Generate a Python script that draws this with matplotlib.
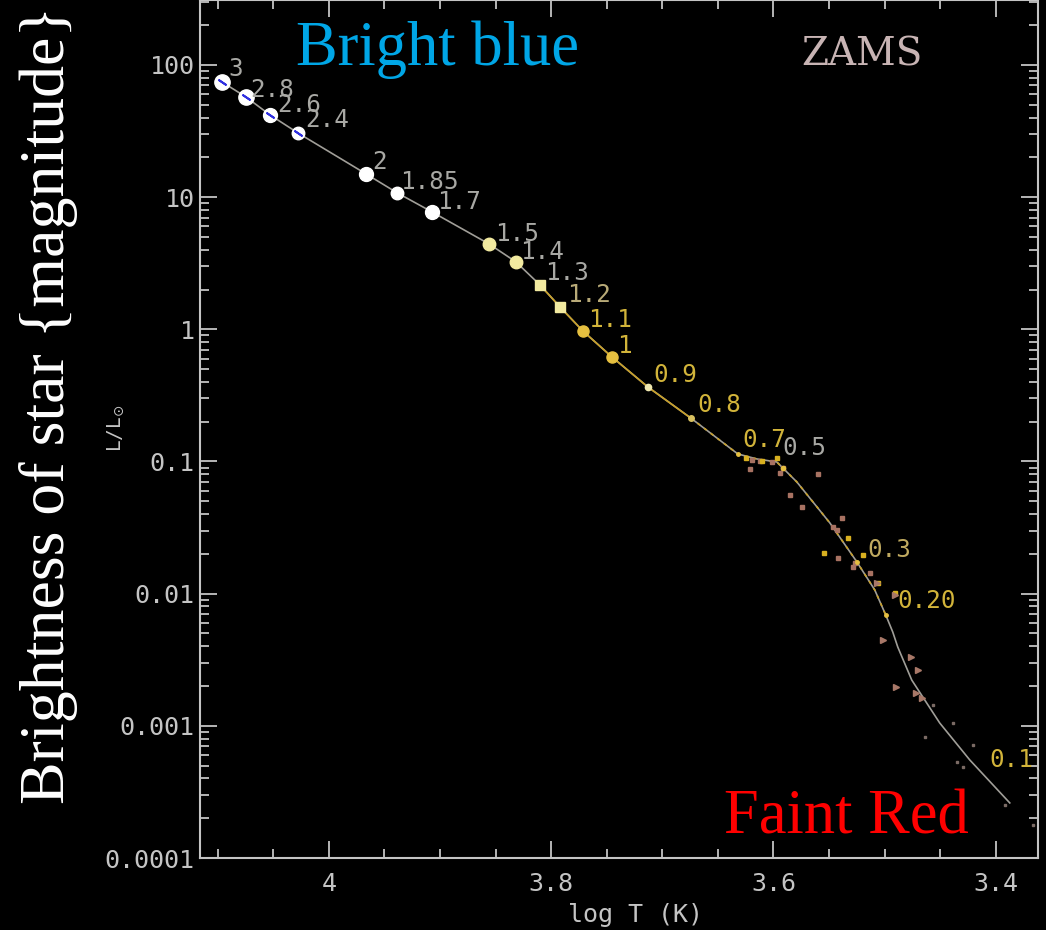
# ZAMS en el diagrama HR (log T vs L/Lsol), fondo negro
import matplotlib
matplotlib.use("Agg")
import matplotlib.pyplot as plt
from matplotlib.ticker import FixedLocator, FixedFormatter, MultipleLocator, LogLocator

# curva ZAMS
lineaLogT = [4.0962, 4.0747, 4.0531, 4.0279, 3.9667, 3.9388, 3.9073, 3.8561, 3.8318,
             3.8102, 3.7922, 3.7715, 3.7454, 3.7130, 3.6744, 3.6321, 3.6150, 3.5970,
             3.5916, 3.5790, 3.5493, 3.5250, 3.5089, 3.4990, 3.4927, 3.4882, 3.4756,
             3.4504, 3.4234, 3.3874]
lineaL = [74.3, 57.3, 41.9, 30.6, 15.0, 10.8, 7.73, 4.43, 3.24,
          2.17, 1.48, 0.971, 0.618, 0.366, 0.213, 0.114, 0.1045, 0.0991,
          0.0893, 0.0700, 0.0343, 0.0174, 0.01067, 0.0069, 0.00513, 0.00395, 0.00222,
          0.00105, 0.000552, 0.000261]

# masas marcadas sobre la curva
masas = ["3", "2.8", "2.6", "2.4", "2", "1.85", "1.7", "1.5", "1.4", "1.3", "1.2",
         "1.1", "1", "0.9", "0.8", "0.7", "0.5", "0.3", "0.20", "0.1"]
masasLogT = [4.0962, 4.0747, 4.0531, 4.0279, 3.9667, 3.9388, 3.9073, 3.8561, 3.8318,
             3.8102, 3.7922, 3.7715, 3.7454, 3.7130, 3.6744, 3.6321, 3.5916, 3.5250,
             3.4990, 3.3874]
masasL = [74.3, 57.3, 41.9, 30.6, 15.0, 10.8, 7.73, 4.43, 3.24,
          2.17, 1.48, 0.971, 0.618, 0.366, 0.213, 0.114, 0.0893, 0.0174,
          0.0069, 0.000261]

# estrellas observadas (cuadrados, puntos amarillos, triangulos, puntos chicos)
cuadradosLogT = [3.6195, 3.6213, 3.6123, 3.6015, 3.5916, 3.5943, 3.5601, 3.5853,
                 3.5745, 3.5385, 3.5466, 3.5430, 3.5421, 3.5287, 3.5269, 3.5134]
cuadradosL = [0.1026, 0.0877, 0.101, 0.0991, 0.0893, 0.0819, 0.0805, 0.0558,
              0.0453, 0.0374, 0.0320, 0.0303, 0.0186, 0.0159, 0.0171, 0.0143]
amarillosLogT = [3.5970, 3.6100, 3.6250, 3.5331, 3.5547, 3.5197, 3.5062, 3.4909]
amarillosL = [0.106, 0.101, 0.106, 0.0264, 0.0203, 0.0196, 0.0121, 0.0101]
triangulosLogT = [3.5071, 3.4909, 3.5017, 3.4765, 3.4702, 3.4900, 3.4720, 3.4666]
triangulosL = [0.0121, 0.00977, 0.00447, 0.00332, 0.00265, 0.00197, 0.00177, 0.00163]
puntosLogT = [3.4567, 3.4387, 3.4639, 3.4207, 3.4351, 3.4297, 3.3919, 3.3667]
puntosL = [0.00144, 0.00105, 0.000824, 0.000716, 0.000532, 0.000489, 0.000252, 0.000178]

yTicks = [100, 10, 1, 0.1, 0.01, 0.001, 0.0001]
yTickLabels = ["100", "10", "1", "0.1", "0.01", "0.001", "0.0001"]
xTicks = [4, 3.8, 3.6, 3.4]
xTickLabels = ["4", "3.8", "3.6", "3.4"]

# estilos de cada marca
BLANCO = "#ffffff"
CREMA = "#f2eaa0"
ORO = "#e6c040"
GRIS = "#a8a8a4"
ORO_TXT = "#d2b43a"
estiloMarca = ["o"] * 7 + ["o", "o", "s", "s", "o", "o", "o", "o", ".", ".", ".", ".", ""]
colorMarca = [BLANCO] * 7 + [CREMA, CREMA, CREMA, CREMA, ORO, ORO, "#f0e8b0", "#d8c060",
                             ORO, ORO, ORO, ORO, GRIS]
tamMarca = [11, 11, 10, 9, 10, 9, 10, 9, 9, 7.5, 7.5, 8, 8, 4.5, 4, 5, 6, 5, 5, 0]
colorEtiqueta = [GRIS] * 10 + ["#b8aa78", ORO_TXT, ORO_TXT, ORO_TXT, ORO_TXT, ORO_TXT,
                               GRIS, "#c0aa60", ORO_TXT, ORO_TXT]
desplazamiento = [(6, 13), (4, 7), (7, 10), (7, 13), (6, 12), (3, 11), (5, 10), (6, 10),
                  (4, 10), (5, 12), (7, 12), (5, 11), (5, 11), (5, 12), (7, 13), (5, 14),
                  (0, 20), (11, 12), (12, 14), (-20, 43)]

COLOR_EJES = "#c4c4c4"
MONO = "DejaVu Sans Mono"

fig = plt.figure(figsize=(10.46, 9.30), dpi=100, facecolor="black")
ax = fig.add_axes([200 / 1046, 72 / 930, 838 / 1046, 858 / 930])
ax.set_facecolor("black")

ax.plot(lineaLogT, lineaL, color="#a09e98", lw=1.2, zorder=2)
ax.plot(lineaLogT[9:15], lineaL[9:15], color="#c8a028", lw=1.2, zorder=2)
ax.plot(lineaLogT[14:24], lineaL[14:24], color="#c8a028", lw=1.2, dashes=(2, 3), zorder=2)

ax.plot(cuadradosLogT, cuadradosL, "s", color="#a87262", ms=3.5, ls="none", zorder=3)
ax.plot(amarillosLogT, amarillosL, "s", color="#d8b020", ms=2.5, ls="none", zorder=3)
ax.plot(triangulosLogT, triangulosL, ">", color="#a87868", ms=4, ls="none", zorder=3)
ax.plot(puntosLogT, puntosL, "s", color="#7a6a64", ms=1.8, ls="none", zorder=3)

for i in range(len(masas)):
    if estiloMarca[i]:
        ax.plot(masasLogT[i], masasL[i], estiloMarca[i], color=colorMarca[i],
                ms=tamMarca[i], mec=colorMarca[i], zorder=4)
    ax.annotate(masas[i], (masasLogT[i], masasL[i]), xytext=desplazamiento[i],
                textcoords="offset pixels", ha="left", va="center",
                fontsize=17.5, family=MONO, color=colorEtiqueta[i], zorder=5)

# rayita azul dentro de las primeras marcas
ax.plot(masasLogT[:4], masasL[:4], marker=(2, 2, 56), color="#3030e0", ms=7,
        mew=1.4, ls="none", zorder=5)

ax.set_yscale("log")
ax.set_xlim(4.116, 3.362)
ax.set_ylim(1e-4, 310)

ax.yaxis.set_major_locator(FixedLocator(yTicks))
ax.yaxis.set_major_formatter(FixedFormatter(yTickLabels))
ax.yaxis.set_minor_locator(LogLocator(base=10, subs=range(2, 10), numticks=20))
ax.xaxis.set_major_locator(FixedLocator(xTicks))
ax.xaxis.set_major_formatter(FixedFormatter(xTickLabels))
ax.xaxis.set_minor_locator(MultipleLocator(0.05))

ax.tick_params(which="both", direction="in", top=True, right=True, colors=COLOR_EJES,
               width=1.3, labelsize=18)
ax.tick_params(which="major", length=12)
ax.tick_params(which="minor", length=6.5)
ax.tick_params(axis="x", pad=10)
ax.tick_params(axis="y", pad=4)
for lbl in ax.get_xticklabels() + ax.get_yticklabels():
    lbl.set_family(MONO)
for lado in ax.spines.values():
    lado.set_color(COLOR_EJES)
    lado.set_linewidth(1.5)

ax.set_xlabel("log T (K)", family=MONO, fontsize=18, color=COLOR_EJES)
ax.xaxis.set_label_coords(0.52, -0.052)
ax.set_ylabel(r"L/L$_{\odot}$", family=MONO, fontsize=14, color=COLOR_EJES)
ax.yaxis.set_label_coords(-(200 - 126) / 838, (858 - 428) / 858)

ax.text(0.79, 0.924, "ZAMS", transform=ax.transAxes, ha="center", va="baseline",
        family="DejaVu Serif", fontsize=28, color="#c8b4b4")

fig.text(0.418, 0.930, "Bright blue", ha="center", va="baseline",
         family="Liberation Serif", fontsize=45, color="#00a6e6")
fig.text(0.809, 0.1043, "Faint Red", ha="center", va="baseline",
         family="Liberation Serif", fontsize=45, color="#ff0000")
fig.text(0.046, 0.5645, "Brightness of star {magnitude}", rotation=90,
         ha="center", va="center", family="Liberation Serif", fontsize=46, color="white")

fig.savefig("out.png", dpi=100, facecolor="black")
